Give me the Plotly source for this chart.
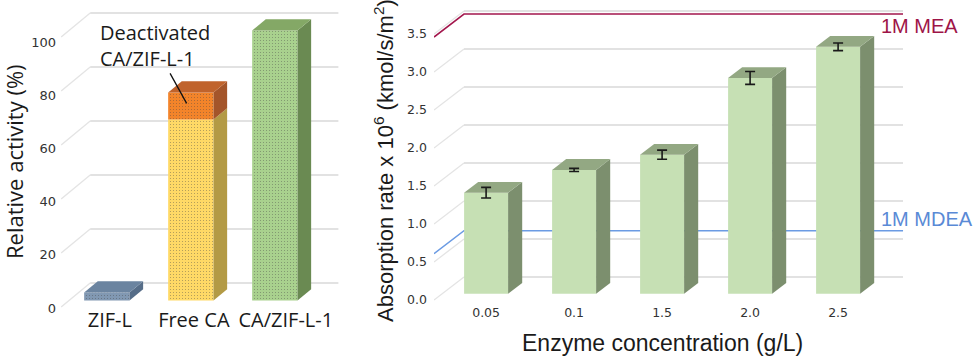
import plotly.graph_objects as go

# ---------------- data ----------------
left_categories = ["ZIF-L", "Free CA", "CA/ZIF-L-1"]
left_active = [3, 67, 100]            # relative activity (%)
left_deactivated = [0, 10, 0]         # deactivated part stacked on top
left_ticks = [0, 20, 40, 60, 80, 100]

right_categories = ["0.05", "0.1", "1.5", "2.0", "2.5"]
right_rate = [1.33, 1.63, 1.83, 2.84, 3.25]
right_err = [0.07, 0.02, 0.06, 0.085, 0.05]
right_ticks = [0.0, 0.5, 1.0, 1.5, 2.0, 2.5, 3.0, 3.5]
mea_rate = 3.46
mdea_rate = 0.61

# ---------------- style / geometry ----------------
W, H = 980, 360
ZF, ZB = 0.27, 0.74          # front / back depth of the bars (fraction of floor depth)
LEFT = dict(x0=99, sx=84, y0=307, sy=2.7, dx=29, dy=24, px=(61, 345), py=(311, 0),
            floor=(-0.45, 2.85), width=0.54, label_y0=308, label_sy=2.66, xaxis_px=306)
RIGHT = dict(x0=478, sx=88, y0=300, sy=76, dx=30, dy=23, px=(434, 912), py=(303, 0),
             floor=(-0.5, 4.83), width=0.5, label_y0=300, label_sy=76, xaxis_px=303)
LEFT_LABEL_SHIFT_PX = [3, 3, 11]     # perspective shift of the category labels
for P in (LEFT, RIGHT):
    P["dxc"] = P["dx"] / P["sx"]
    P["dyv"] = P["dy"] / P["sy"]
    P["xrange"] = [(P["px"][0] - P["x0"]) / P["sx"], (P["px"][1] - P["x0"]) / P["sx"]]
    P["yrange"] = [(P["y0"] - P["py"][0]) / P["sy"], (P["y0"] - P["py"][1]) / P["sy"]]
    P["xdom"] = [P["px"][0] / W, P["px"][1] / W]
    P["ydom"] = [1 - P["py"][0] / H, 1 - P["py"][1] / H]


def label_vals(P, ticks):
    # front-edge (perspective) positions of the value labels
    return [(P["y0"] - (P["label_y0"] - P["label_sy"] * t)) / P["sy"] for t in ticks]


GRID_BACK = "#d9d9d9"
GRID_DIAG = "#e4e4e4"
SMALL = "DejaVu Sans"
BIG_L = "Open Sans"
BIG_R = "Liberation Sans"

fig = go.Figure()


def gridlines(P, ticks, xa, ya):
    fl, br = P["floor"]
    dx, dy = P["dxc"], P["dyv"]
    xd, yd, xb, yb = [], [], [], []
    for t in ticks:
        xd += [fl, fl + dx, None]
        yd += [t, t + dy, None]
        xb += [fl + dx, br, None]
        yb += [t + dy, t + dy, None]
    fig.add_trace(go.Scatter(x=xd, y=yd, mode="lines", line=dict(color=GRID_DIAG, width=1.3),
                             xaxis=xa, yaxis=ya, hoverinfo="skip", showlegend=False))
    fig.add_trace(go.Scatter(x=xb, y=yb, mode="lines", line=dict(color=GRID_BACK, width=1.3),
                             xaxis=xa, yaxis=ya, hoverinfo="skip", showlegend=False))


def poly(xs, ys, color, xa, ya):
    fig.add_trace(go.Scatter(x=xs + [xs[0]], y=ys + [ys[0]], mode="lines", fill="toself",
                             fillcolor=color, line=dict(width=0, color=color),
                             xaxis=xa, yaxis=ya, hoverinfo="skip", showlegend=False))


def bars3d(P, idx, base_vals, heights, front, top, side, xa, ya, draw_top, pattern=None):
    dx, dy, w = P["dxc"], P["dyv"], P["width"]
    xs = [i + ZF * dx for i in idx]
    bases = [b + ZF * dy for b in base_vals]
    marker = dict(color=front, line=dict(width=0))
    if pattern is not None:
        marker["pattern"] = pattern
    fig.add_trace(go.Bar(x=xs, y=heights, base=bases, width=w, marker=marker,
                         xaxis=xa, yaxis=ya, showlegend=False, hoverinfo="skip"))
    ddx, ddy = (ZB - ZF) * dx, (ZB - ZF) * dy
    for k in range(len(idx)):
        xl, xr = xs[k] - w / 2, xs[k] + w / 2
        b0, b1 = bases[k], bases[k] + heights[k]
        poly([xr, xr + ddx, xr + ddx, xr], [b0, b0 + ddy, b1 + ddy, b1], side[k], xa, ya)
        if draw_top[k]:
            poly([xl, xr, xr + ddx, xl + ddx], [b1, b1, b1 + ddy, b1 + ddy], top[k], xa, ya)


# ---------------- left panel ----------------
gridlines(LEFT, left_ticks, "x", "y")
nL = len(left_categories)
has_deact = [d > 0 for d in left_deactivated]
dots = dict(shape=".", fgcolor="rgba(255,255,255,0.35)", size=3, solidity=0.1)
bars3d(LEFT, list(range(nL)), [0] * nL, left_active,
       ["#8198b2", "#ffd966", "#a9d18e"],
       ["#6b84a0", "#c9a94a", "#84a866"],
       ["#566d88", "#b39a45", "#6a8a52"],
       "x3", "y3", draw_top=[not h for h in has_deact], pattern=dots)
d_idx = [i for i in range(nL) if has_deact[i]]
bars3d(LEFT, d_idx, [left_active[i] for i in d_idx], [left_deactivated[i] for i in d_idx],
       ["#f3842a"] * len(d_idx), ["#c0632c"] * len(d_idx), ["#a4552a"] * len(d_idx),
       "x3", "y3", draw_top=[True] * len(d_idx),
       pattern=dict(shape=".", fgcolor="rgba(255,220,180,0.35)", size=3, solidity=0.1))

# ---------------- right panel ----------------
gridlines(RIGHT, right_ticks, "x2", "y2")
fl, br = RIGHT["floor"]
for val, col in ((mea_rate, "#a3174d"), (mdea_rate, "#6b9be3")):
    fig.add_trace(go.Scatter(x=[fl, fl + RIGHT["dxc"], br],
                             y=[val, val + RIGHT["dyv"], val + RIGHT["dyv"]],
                             mode="lines", line=dict(color=col, width=1.5),
                             xaxis="x2", yaxis="y2", hoverinfo="skip", showlegend=False))
nR = len(right_categories)
bars3d(RIGHT, list(range(nR)), [0] * nR, right_rate,
       ["#c6e0b4"] * nR, ["#93a883"] * nR, ["#7c8f6e"] * nR, "x4", "y4",
       draw_top=[True] * nR)
fig.add_trace(go.Scatter(x=[i + ZF * RIGHT["dxc"] for i in range(nR)],
                         y=[v + ZF * RIGHT["dyv"] for v in right_rate],
                         mode="markers", marker=dict(size=1, opacity=0),
                         error_y=dict(type="data", array=right_err, color="#1a1a1a",
                                      thickness=1.6, width=5),
                         xaxis="x4", yaxis="y4", hoverinfo="skip", showlegend=False))

# ---------------- axes ----------------
def base_axis(**kw):
    d = dict(showgrid=False, zeroline=False, showline=False, ticks="", fixedrange=True,
             automargin=False)
    d.update(kw)
    return d

left_tickx = [i + ZF * LEFT["dxc"] + LEFT_LABEL_SHIFT_PX[i] / LEFT["sx"] for i in range(nL)]
fig.update_layout(
    width=W, height=H, margin=dict(l=0, r=0, t=0, b=0, autoexpand=False),
    paper_bgcolor="white", plot_bgcolor="rgba(0,0,0,0)",
    barmode="overlay", showlegend=False,
    xaxis=base_axis(domain=LEFT["xdom"], range=LEFT["xrange"], anchor="free",
                    position=1 - LEFT["xaxis_px"] / H, tickangle=0,
                    tickvals=left_tickx, ticktext=left_categories,
                    tickfont=dict(family=BIG_L, size=20, color="#1a1a1a")),
    yaxis=base_axis(domain=LEFT["ydom"], range=LEFT["yrange"], anchor="x",
                    tickvals=label_vals(LEFT, left_ticks),
                    ticktext=[str(t) for t in left_ticks],
                    tickfont=dict(family=SMALL, size=13, color="#333333"), ticklabelstandoff=4),
    xaxis2=base_axis(domain=RIGHT["xdom"], range=RIGHT["xrange"], anchor="free",
                     position=1 - RIGHT["xaxis_px"] / H, tickangle=0,
                     tickvals=[i + ZF * RIGHT["dxc"] for i in range(nR)], ticktext=right_categories,
                     tickfont=dict(family=SMALL, size=12.5, color="#333333")),
    yaxis2=base_axis(domain=RIGHT["ydom"], range=RIGHT["yrange"], anchor="x2",
                     tickvals=label_vals(RIGHT, right_ticks),
                     ticktext=["%.1f" % t for t in right_ticks],
                     tickfont=dict(family=SMALL, size=12.5, color="#333333"), ticklabelstandoff=6),
    xaxis3=base_axis(overlaying="x", anchor="y3", range=LEFT["xrange"], visible=False),
    yaxis3=base_axis(overlaying="y", anchor="x3", range=LEFT["yrange"], visible=False),
    xaxis4=base_axis(overlaying="x2", anchor="y4", range=RIGHT["xrange"], visible=False),
    yaxis4=base_axis(overlaying="y2", anchor="x4", range=RIGHT["yrange"], visible=False),
)

# ---------------- text ----------------
ann = []
ann.append(dict(text="Relative activity (%)", xref="paper", yref="paper", x=14 / W, y=1 - 162 / H,
                xanchor="center", yanchor="middle", textangle=-90, showarrow=False,
                font=dict(family=BIG_L, size=22, color="#1a1a1a")))
ann.append(dict(text="Absorption rate x 10<sup>6</sup> (kmol/s/m<sup>2</sup>)", xref="paper",
                yref="paper", x=384 / W, y=1 - 161 / H, xanchor="center", yanchor="middle",
                textangle=-90, showarrow=False,
                font=dict(family=BIG_R, size=22, color="#1a1a1a")))
ann.append(dict(text="Enzyme concentration (g/L)", xref="paper", yref="paper", x=662 / W,
                y=1 - 343 / H, xanchor="center", yanchor="middle", showarrow=False,
                font=dict(family=BIG_R, size=23, color="#1a1a1a")))
# callout text with its leader line pointing at the deactivated part of Free CA
ann.append(dict(text="Deactivated<br>CA/ZIF-L-1", xref="x3", yref="y3",
                x=1 + ZF * LEFT["dxc"] - 0.05,
                y=left_active[1] + 0.6 * left_deactivated[1] + ZF * LEFT["dyv"],
                align="left", showarrow=True, arrowhead=0, arrowwidth=1.3, arrowcolor="#111111",
                ax=-32, ay=-58, font=dict(family=BIG_L, size=20, color="#1a1a1a")))
ann.append(dict(text="1M MEA", xref="x2", yref="y2", x=br, y=mea_rate + RIGHT["dyv"],
                xanchor="center", yanchor="middle", xshift=16, yshift=-12, showarrow=False,
                font=dict(family=BIG_R, size=20, color="#9e1447")))
ann.append(dict(text="1M MDEA", xref="x2", yref="y2", x=br, y=mdea_rate + RIGHT["dyv"],
                xanchor="center", yanchor="middle", xshift=24, yshift=12, showarrow=False,
                font=dict(family=BIG_R, size=20, color="#5a8ad6")))
fig.update_layout(annotations=ann)

fig.write_html("out.html", config={"displayModeBar": False},
               post_script="document.body.style.margin='0px';document.body.style.overflow='hidden';")
